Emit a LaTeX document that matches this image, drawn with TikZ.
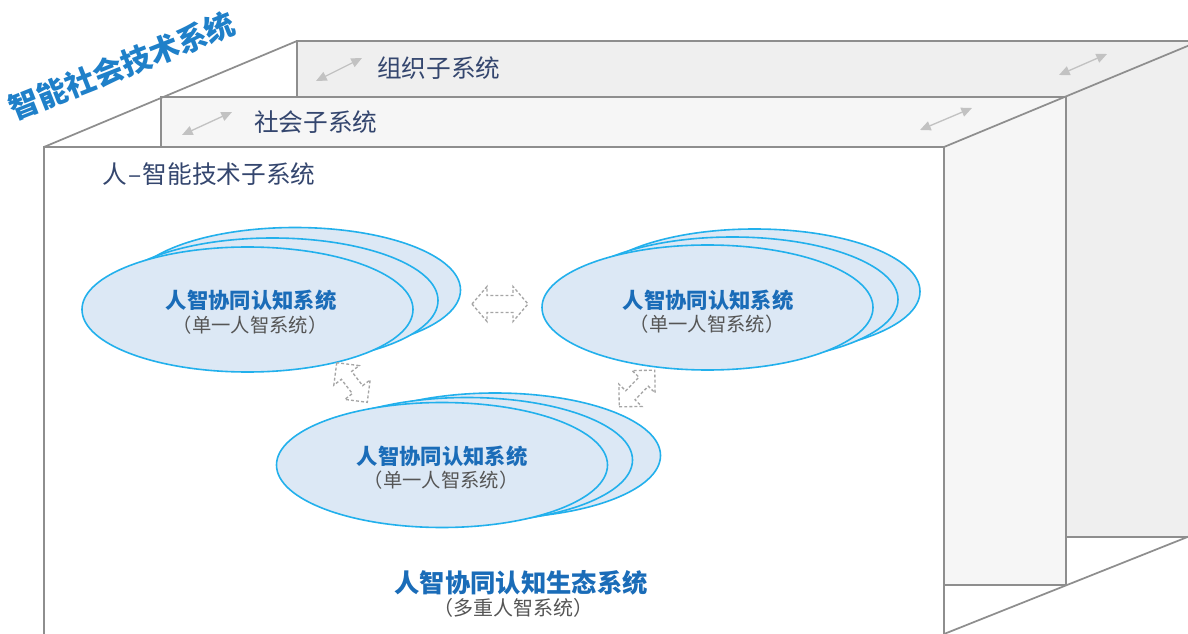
\documentclass[tikz,border=0pt]{standalone}
\usepackage{fontspec}
\setmainfont{Noto Sans CJK SC}
\usetikzlibrary{arrows.meta}
\definecolor{edgegrey}{HTML}{8E8E8E}
\definecolor{boxthree}{HTML}{EFEFEF}
\definecolor{boxtwo}{HTML}{F6F6F6}
\definecolor{labelblue}{HTML}{34466E}
\definecolor{titleblue}{HTML}{1F80C9}
\definecolor{ellfill}{HTML}{DCE8F5}
\definecolor{elldraw}{HTML}{22B0EC}
\definecolor{elltext}{HTML}{1A6CB8}
\definecolor{subgrey}{HTML}{555555}
\definecolor{arrgrey}{HTML}{C2C2C2}
\definecolor{dashgrey}{HTML}{A5A5A5}
\tikzset{
  panel/.style={draw=edgegrey, line width=1.3pt},
  perspline/.style={draw=edgegrey, line width=1.3pt},
  sublabel/.style={anchor=west, inner sep=0pt, text=labelblue, font=\fontsize{18.5pt}{22pt}\selectfont},
  smallarrow/.style={draw=arrgrey, line width=1pt, {Triangle[length=8pt,width=7pt]}-{Triangle[length=8pt,width=7pt]}},
  cogell/.style={fill=ellfill, draw=elldraw, line width=1.2pt},
  elltitle/.style={inner sep=0pt, text=elltext, font=\fontsize{16pt}{19pt}\selectfont\bfseries},
  ellsub/.style={inner sep=0pt, text=subgrey, font=\fontsize{14.5pt}{17pt}\selectfont},
  hollowarrow/.style={draw=dashgrey, line width=1pt, dash pattern=on 2.2pt off 1.6pt, fill=white}
}
\newcommand{\dblarrow}[8]{% cx cy angle L h w s name
  \begin{scope}[shift={(#1,#2)}, rotate=#3]
    \draw[hollowarrow] (-#4/2,0) -- (-#4/2+#5,#6) -- (-#4/2+#5,#7) -- (#4/2-#5,#7) -- (#4/2-#5,#6) -- (#4/2,0)
      -- (#4/2-#5,-#6) -- (#4/2-#5,-#7) -- (-#4/2+#5,-#7) -- (-#4/2+#5,-#6) -- cycle;
    \coordinate (#8) at (0,0);
  \end{scope}}
\begin{document}
\begin{tikzpicture}[x=0.75pt,y=-0.75pt]
\clip (0,0) rectangle (1188,634);
\fill[white] (0,0) rectangle (1188,634);
% panels, back to front
\filldraw[panel, fill=boxthree] (297,41) rectangle (1230,537);
\filldraw[panel, fill=boxtwo] (161,97) rectangle (1066,585);
\filldraw[panel, fill=white] (44,147) rectangle (944,660);
% perspective lines
\coordinate (tl1) at (44,147);
\coordinate (tl3) at (297,41);
\coordinate (tr1) at (944,147);
\coordinate (tr3) at (1190,45);
\coordinate (br1) at (944,634);
\coordinate (br3) at (1190,536);
\draw[perspline] (tl1) -- (tl3);
\draw[perspline] (tr1) -- (tr3);
\draw[perspline] (br1) -- (br3);
% labels
\node[sublabel] (org) at (377,68) {组织子系统};
\node[sublabel] (soc) at (254,122) {社会子系统};
\node[sublabel] (hum) at (102,174) {人\kern1pt–\kern1pt智能技术子系统};
\node[inner sep=0pt, text=titleblue, rotate=21.5, font=\fontsize{22.5pt}{26pt}\selectfont\bfseries] (main) at (122,66) {智能社会技术系统};
% small double arrows
\coordinate (a1s) at (316,81); \coordinate (a1e) at (362,58);
\coordinate (a2s) at (1059,75); \coordinate (a2e) at (1107,54);
\coordinate (a3s) at (182,135); \coordinate (a3e) at (232,112);
\coordinate (a4s) at (920,130); \coordinate (a4e) at (972,108);
\draw[smallarrow] (a1s) -- (a1e);
\draw[smallarrow] (a2s) -- (a2e);
\draw[smallarrow] (a3s) -- (a3e);
\draw[smallarrow] (a4s) -- (a4e);
% ellipse group 1
\filldraw[cogell] (295,290) ellipse [x radius=165.5, y radius=62.5];
\filldraw[cogell] (272.5,300.5) ellipse [x radius=165.5, y radius=62.5];
\filldraw[cogell] (247.5,309.5) ellipse [x radius=165.5, y radius=62.5];
\node[elltitle] (t1) at (251,300) {人智协同认知系统};
\node[ellsub] (s1) at (250,325) {（单一人智系统）};
% ellipse group 2
\filldraw[cogell] (754.5,291.5) ellipse [x radius=165.5, y radius=62.5];
\filldraw[cogell] (732.5,299.5) ellipse [x radius=165.5, y radius=62.5];
\filldraw[cogell] (707.5,307.5) ellipse [x radius=165.5, y radius=62.5];
\node[elltitle] (t2) at (708,300) {人智协同认知系统};
\node[ellsub] (s2) at (707,324) {（单一人智系统）};
% ellipse group 3
\filldraw[cogell] (495,455.5) ellipse [x radius=165.5, y radius=62.5];
\filldraw[cogell] (467,460) ellipse [x radius=165.5, y radius=62.5];
\filldraw[cogell] (442,465) ellipse [x radius=165.5, y radius=62.5];
\node[elltitle] (t3) at (442,456) {人智协同认知系统};
\node[ellsub] (s3) at (441,480) {（单一人智系统）};
% hollow dashed arrows
\dblarrow{500}{304}{0}{56}{15}{17.5}{8.5}{h12}
\dblarrow{352}{382.5}{-52.4}{50}{16}{16}{6.5}{h13}
\dblarrow{637}{388.5}{45.8}{51}{16}{16}{6.5}{h23}
% bottom caption
\node[inner sep=0pt, text=elltext, font=\fontsize{19pt}{22pt}\selectfont\bfseries] (eco) at (521,583) {人智协同认知生态系统};
\node[ellsub, font=\fontsize{15pt}{17pt}\selectfont] (ecosub) at (513,608) {（多重人智系统）};
\end{tikzpicture}
\end{document}
